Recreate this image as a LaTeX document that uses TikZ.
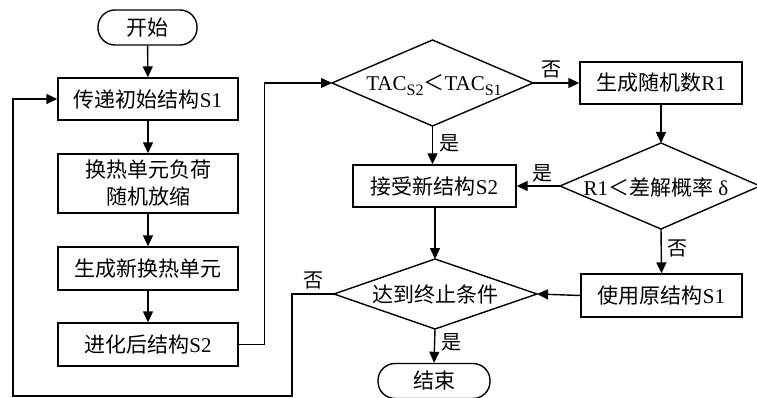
\documentclass[tikz,border=0pt]{standalone}
\usepackage{fontspec}
\setmainfont{Liberation Serif}
\newfontfamily\cjk{Noto Sans CJK SC}
\usetikzlibrary{arrows.meta,positioning}
\tikzset{
  line/.style={line width=1.4pt, black},
  arr/.style={line, -{Triangle[length=11pt,width=10pt]}},
  box/.style={draw, line width=1.4pt, rectangle, inner sep=0pt, align=center},
  term/.style={draw, line width=1.4pt, rectangle, rounded corners=17pt, inner sep=0pt},
  txt/.style={inner sep=0pt, align=center},
  lab/.style={inner sep=0pt, font=\cjk\fontsize{20}{20}\selectfont},
}
\begin{document}
\begin{tikzpicture}[x=1pt,y=-1pt, font=\fontsize{21}{27}\selectfont]
\useasboundingbox (0,0) rectangle (757,398);
% left column
\node[term, minimum width=99pt, minimum height=35pt] (start) at (147.5,27.5) {\cjk 开始};
\node[box, minimum width=180pt, minimum height=42pt] (b1) at (148,99) {{\cjk 传递初始结构}S1};
\node[box, minimum width=180pt, minimum height=59pt] (b2) at (148,183.5) {\cjk 换热单元负荷\\\cjk 随机放缩};
\node[box, minimum width=180pt, minimum height=43pt] (b3) at (148,268.5) {\cjk 生成新换热单元};
\node[box, minimum width=180pt, minimum height=43pt] (b4) at (148,344.5) {{\cjk 进化后结构}S2};
% diamond 1
\node[txt] (d1) at (434,85) {TAC\raisebox{-5pt}{\fontsize{16}{16}\selectfont S2}{\cjk ＜}TAC\raisebox{-5pt}{\fontsize{16}{16}\selectfont S1}};
\coordinate (d1n) at (432.5,40); \coordinate (d1s) at (432.5,126);
\coordinate (d1w) at (332,83); \coordinate (d1e) at (533,83);
\draw[line] (d1n) -- (d1e) -- (d1s) -- (d1w) -- cycle;
% right column
\node[box, minimum width=162pt, minimum height=42pt] (r1) at (661,83) {{\cjk 生成随机数}R1};
\node[txt] (d2) at (656,187) {R1{\cjk ＜差解概率} δ};
\coordinate (d2n) at (661,143); \coordinate (d2s) at (661,229);
\coordinate (d2w) at (560,186); \coordinate (d2e) at (760,186);
\draw[line] (d2n) -- (d2e) -- (d2s) -- (d2w) -- cycle;
\node[box, minimum width=161pt, minimum height=43pt] (s1) at (661.5,295.5) {{\cjk 使用原结构}S1};
% middle column
\node[box, minimum width=163pt, minimum height=42pt] (acc) at (434.5,186) {{\cjk 接受新结构}S2};
\node[txt] (d3) at (435,294) {\cjk 达到终止条件};
\coordinate (d3n) at (435,259); \coordinate (d3s) at (435,329);
\coordinate (d3w) at (334,294); \coordinate (d3e) at (537,294);
\draw[line] (d3n) -- (d3e) -- (d3s) -- (d3w) -- cycle;
\node[term, minimum width=112pt, minimum height=35pt] (end) at (434,381) {\cjk 结束};
% connectors
\draw[arr] (start) -- (b1);
\draw[arr] (b1) -- (b2);
\draw[arr] (b2) -- (b3);
\draw[arr] (b3) -- (b4);
\draw[arr] (b4.east) -- ++(26,0) |- (d1w);
\draw[arr] (d1e) -- (r1.west) node[lab, pos=0.4, above=4pt] {否};
\draw[arr] (d1s) -- (d1s |- acc.north) node[lab, pos=0.45, right=6pt] {是};
\draw[arr] (r1) -- (d2n);
\draw[arr] (d2w) -- (acc.east) node[lab, pos=0.4, above=3pt] {是};
\draw[arr] (d2s) -- (s1.north) node[lab, pos=0.45, right=6pt] {否};
\draw[arr] (acc.south -| d3n) -- (d3n);
\draw[arr] (s1.west) -- (d3e);
\draw[arr] (d3s) -- (end.north) node[lab, pos=0.4, right=6pt] {是};
\coordinate (lb) at (13,396);
\draw[arr] (d3w) -- (292,294) node[lab, pos=0.5, above=4pt] {否} -- (292,396) -- (lb) |- (b1.west);
\end{tikzpicture}
\end{document}
